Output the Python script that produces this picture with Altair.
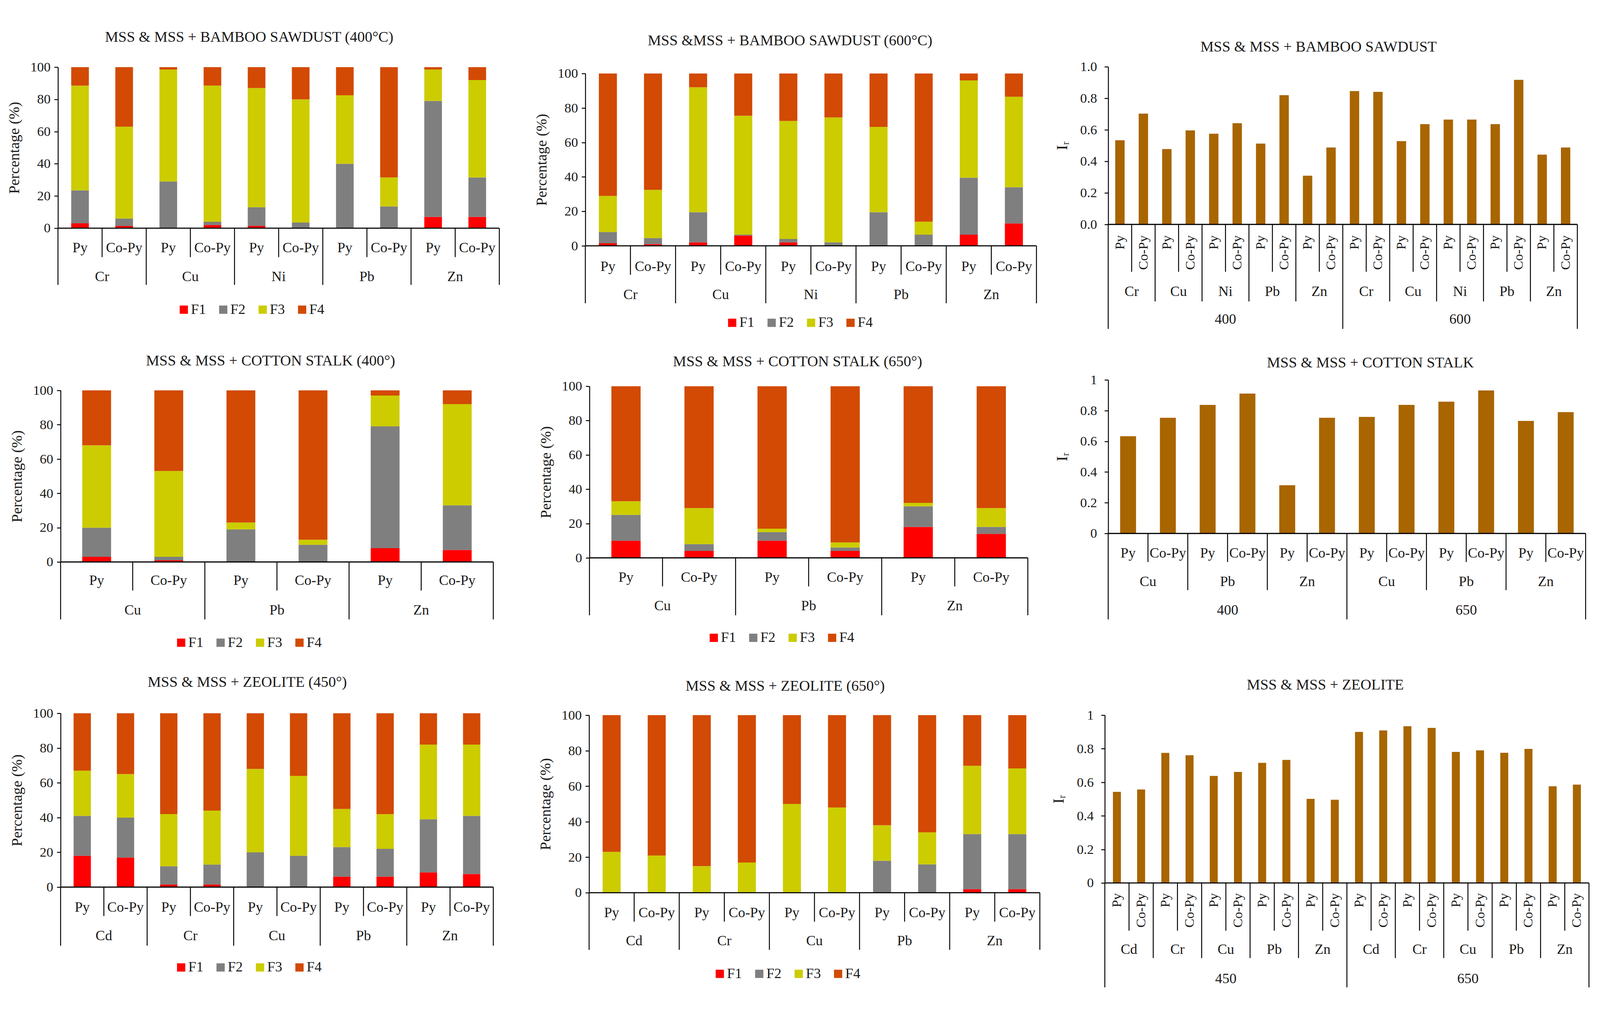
import altair as alt
import pandas as pd

# ---------------------------------------------------------
# DATA  (bars are listed metal by metal: Py, Co-Py, Py, Co-Py ...)
# ---------------------------------------------------------
FRACTIONS = ["F1", "F2", "F3", "F4"]
METHODS = ["Py", "Co-Py"]

# bamboo sawdust, 400 C
BS400_METALS = ["Cr", "Cu", "Ni", "Pb", "Zn"]
BS400_F1 = [3, 1.5, 0, 2, 1.5, 0, 0, 0, 7, 7]
BS400_F2 = [20.5, 4.5, 29, 2, 11.5, 3.5, 40, 13.5, 72, 24.5]
BS400_F3 = [65, 57, 69.5, 84.5, 74, 76.5, 42.5, 18, 19.5, 60.5]
BS400_F4 = [11.5, 37, 1.5, 11.5, 13, 20, 17.5, 68.5, 1.5, 8]

# bamboo sawdust, 600 C
BS600_METALS = ["Cr", "Cu", "Ni", "Pb", "Zn"]
BS600_F1 = [1.5, 1, 2, 6, 2, 0, 0, 0, 6.5, 13]
BS600_F2 = [6.5, 3.5, 17.5, 0.5, 2, 2, 19.5, 6.5, 33, 21]
BS600_F3 = [21, 28, 72.5, 69, 68.5, 72.5, 49.5, 7.5, 56.5, 52.5]
BS600_F4 = [71, 67.5, 8, 24.5, 27.5, 25.5, 31, 86, 4, 13.5]

# cotton stalk, 400
CS400_METALS = ["Cu", "Pb", "Zn"]
CS400_F1 = [3, 1, 0, 0, 8, 7]
CS400_F2 = [17, 2, 19, 10, 71, 26]
CS400_F3 = [48, 50, 4, 3, 18, 59]
CS400_F4 = [32, 47, 77, 87, 3, 8]

# cotton stalk, 650
CS650_METALS = ["Cu", "Pb", "Zn"]
CS650_F1 = [10, 4, 10, 4, 18, 14]
CS650_F2 = [15, 4, 5, 2, 12, 4]
CS650_F3 = [8, 21, 2, 3, 2, 11]
CS650_F4 = [67, 71, 83, 91, 68, 71]

# zeolite, 450
ZE450_METALS = ["Cd", "Cr", "Cu", "Pb", "Zn"]
ZE450_F1 = [18, 17, 1.5, 1.5, 0, 0, 6, 6, 8.5, 7.5]
ZE450_F2 = [23, 23, 10.5, 11.5, 20, 18, 17, 16, 30.5, 33.5]
ZE450_F3 = [26, 25, 30, 31, 48, 46, 22, 20, 43, 41]
ZE450_F4 = [33, 35, 58, 56, 32, 36, 55, 58, 18, 18]

# zeolite, 650
ZE650_METALS = ["Cd", "Cr", "Cu", "Pb", "Zn"]
ZE650_F1 = [0, 0, 0, 0, 0, 0, 0, 0, 2, 2]
ZE650_F2 = [0, 0, 0, 0, 0, 0, 18, 16, 31, 31]
ZE650_F3 = [23, 21, 15, 17, 50, 48, 20, 18, 38.5, 37]
ZE650_F4 = [77, 79, 85, 83, 50, 52, 62, 66, 28.5, 30]

# Ir index, low / high temperature
BS_IR_TEMPS = ["400", "600"]
BS_IR_METALS = ["Cr", "Cu", "Ni", "Pb", "Zn"]
BS_IR_LOW = [0.534, 0.703, 0.478, 0.596, 0.575, 0.642, 0.513, 0.820, 0.309, 0.488]
BS_IR_HIGH = [0.846, 0.841, 0.528, 0.636, 0.665, 0.665, 0.636, 0.917, 0.443, 0.488]

CS_IR_TEMPS = ["400", "650"]
CS_IR_METALS = ["Cu", "Pb", "Zn"]
CS_IR_LOW = [0.633, 0.753, 0.837, 0.911, 0.314, 0.753]
CS_IR_HIGH = [0.759, 0.837, 0.858, 0.931, 0.733, 0.790]

ZE_IR_TEMPS = ["450", "650"]
ZE_IR_METALS = ["Cd", "Cr", "Cu", "Pb", "Zn"]
ZE_IR_LOW = [0.543, 0.557, 0.775, 0.761, 0.638, 0.662, 0.716, 0.733, 0.501, 0.496]
ZE_IR_HIGH = [0.900, 0.909, 0.934, 0.924, 0.781, 0.790, 0.776, 0.799, 0.576, 0.586]

PCT_TICKS = [0, 20, 40, 60, 80, 100]
IR_TICKS = [0, 0.2, 0.4, 0.6, 0.8, 1.0]

# ---------------------------------------------------------
# STYLE / LAYOUT  (page pixels; the chart sits 8px in)
# ---------------------------------------------------------
FONT = "Liberation Serif"
TEXT = "#1a1a1a"
FRACTION_COLORS = ["#ff0000", "#7f7f7f", "#cccc00", "#d24a04"]
IR_COLOR = "#a86500"
MARGIN = 8
CHART_W, CHART_H = 4243, 2576
LEGEND_STEP = 105
PX_KEYS = ("x0", "x1", "yt", "yb", "title_x", "title_y", "sub_y", "sub_bot",
           "grp_y", "grp_bot", "leg_x", "leg_y", "temp_y", "bot")


def _geo(**g):
    return {k: (v - MARGIN if k in PX_KEYS else v) for k, v in g.items()}


G1 = _geo(x0=154, x1=1329, yt=127, yb=556, title_x=663, title_y=48, sub_y=609, sub_bot=633,
          grp_y=686, grp_bot=707, leg_x=489, leg_y=773, bar=0.4)
G2 = _geo(x0=1558, x1=2759, yt=144, yb=603, title_x=2103, title_y=57, sub_y=659, sub_bot=680,
          grp_y=734, grp_bot=756, leg_x=1949, leg_y=808, bar=0.4)
G3 = _geo(x0=2950, x1=4199, yt=126, yb=546, title_x=3510, title_y=73, sub_y=575, sub_bot=672,
          grp_y=726, grp_bot=751, temp_y=799, bot=824, rotate=True, bar=0.4, fmt=".1f")
G4 = _geo(x0=161, x1=1313, yt=988, yb=1445, title_x=720, title_y=910, sub_y=1495, sub_bot=1521,
          grp_y=1574, grp_bot=1598, leg_x=482, leg_y=1660, bar=0.4)
G5 = _geo(x0=1569, x1=2736, yt=977, yb=1434, title_x=2123, title_y=912, sub_y=1487, sub_bot=1510,
          grp_y=1563, grp_bot=1587, leg_x=1900, leg_y=1647, bar=0.4)
G6 = _geo(x0=2950, x1=4221, yt=960, yb=1369, title_x=3648, title_y=915, sub_y=1422, sub_bot=1445,
          grp_y=1498, grp_bot=1520, temp_y=1574, bot=1598, rotate=False, bar=0.4, fmt="~g")
G7 = _geo(x0=161, x1=1313, yt=1848, yb=2311, title_x=658, title_y=1765, sub_y=2366, sub_bot=2388,
          grp_y=2441, grp_bot=2467, leg_x=482, leg_y=2525, bar=0.4)
G8 = _geo(x0=1568, x1=2768, yt=1853, yb=2326, title_x=2090, title_y=1776, sub_y=2380, sub_bot=2403,
          grp_y=2455, grp_bot=2478, leg_x=1916, leg_y=2542, bar=0.4)
G9 = _geo(x0=2941, x1=4230, yt=1853, yb=2300, title_x=3528, title_y=1773, sub_y=2327, sub_bot=2427,
          grp_y=2478, grp_bot=2500, temp_y=2556, bot=2578, rotate=True, bar=0.33, fmt="~g")


# ---------------------------------------------------------
# HELPERS
# ---------------------------------------------------------
def _key_frame(temps, metals):
    rows = []
    for t in temps:
        for m in metals:
            for p in METHODS:
                key = "|".join(s for s in (t, m, p) if s)
                rows.append({"key": key, "temp": t, "metal": m, "method": p})
    return pd.DataFrame(rows)


def _x(keys, g, band=None):
    kw = {} if band is None else {"bandPosition": band}
    scale = alt.Scale(domain=keys, range=[g["x0"], g["x1"]], paddingInner=0, paddingOuter=0)
    return alt.X("key:N", scale=scale, axis=None, **kw)


def _rule(df, keys, g, band, y0, y1):
    return (
        alt.Chart(df)
        .mark_rule(color="black", strokeWidth=2.5)
        .encode(x=_x(keys, g, band), y=alt.value(y0), y2=alt.value(y1))
    )


def _label(df, keys, g, band, y, field, **mark_kw):
    style = dict(font=FONT, fontSize=38, color=TEXT, baseline="middle", align="center")
    style.update(mark_kw)
    return (
        alt.Chart(df)
        .mark_text(**style)
        .encode(x=_x(keys, g, band), y=alt.value(y), text=f"{field}:N")
    )


def _baseline(g):
    return (
        alt.Chart(pd.DataFrame({"z": [0]}))
        .mark_rule(color="black", strokeWidth=3)
        .encode(x=alt.value(g["x0"]), x2=alt.value(g["x1"]), y=alt.datum(0))
    )


def _title(text, g):
    return (
        alt.Chart(pd.DataFrame({"t": [text]}))
        .mark_text(font=FONT, fontSize=40, color=TEXT, baseline="middle", align="center")
        .encode(x=alt.value(g["title_x"]), y=alt.value(g["title_y"]), text="t:N")
    )


def _category_layers(kf, g):
    keys = list(kf["key"])
    first = kf.groupby("temp", sort=False).head(1)
    starts = kf[(kf["method"] == "Py") & ~kf["key"].isin(first["key"])]
    outer = g.get("bot", g["grp_bot"])
    layers = [
        _rule(kf[kf["method"] == "Co-Py"], keys, g, 0, g["yb"], g["sub_bot"]),
        _rule(starts, keys, g, 0, g["yb"], g["grp_bot"]),
        _rule(first, keys, g, 0, g["yb"], outer),
        _rule(kf.tail(1), keys, g, 1, g["yb"], outer),
        _label(kf[kf["method"] == "Co-Py"], keys, g, 0, g["grp_y"], "metal"),
    ]
    if g.get("rotate"):
        layers.append(_label(kf, keys, g, None, g["sub_y"], "method", angle=270,
                             align="right", fontSize=36))
    else:
        layers.append(_label(kf, keys, g, None, g["sub_y"], "method"))
    if "temp_y" in g:
        mids = kf.groupby("temp", sort=False).apply(lambda d: d.iloc[[len(d) // 2]])
        layers.append(_label(mids.reset_index(drop=True), keys, g, 0, g["temp_y"], "temp"))
    return layers


def _fraction_color():
    return alt.Color("frac:N", scale=alt.Scale(domain=FRACTIONS, range=FRACTION_COLORS),
                     legend=None)


def _legend_layer(g):
    lx = alt.X("frac:N", axis=None,
               scale=alt.Scale(type="point", domain=FRACTIONS, padding=0,
                               range=[g["leg_x"], g["leg_x"] + 3 * LEGEND_STEP]))
    base = alt.Chart(pd.DataFrame({"frac": FRACTIONS}))
    swatch = base.mark_square(size=484, opacity=1, strokeWidth=0).encode(
        x=lx, y=alt.value(g["leg_y"]), color=_fraction_color())
    label = base.mark_text(font=FONT, fontSize=38, color=TEXT, align="left",
                           baseline="middle", dx=19).encode(
        x=lx, y=alt.value(g["leg_y"]), text="frac:N")
    return alt.layer(swatch, label)


# ---------------------------------------------------------
# STACKED FRACTION PANEL
# ---------------------------------------------------------
def _stacked_panel(title, metals, fractions, g):
    kf = _key_frame([""], metals)
    rows = []
    for n, rec in kf.iterrows():
        for k, frac in enumerate(FRACTIONS):
            v = fractions[k][n]
            if v > 0:
                rows.append({"key": rec["key"], "frac": frac, "ord": k, "val": v})
    df = pd.DataFrame(rows)
    keys = list(kf["key"])

    bars = (
        alt.Chart(df)
        .mark_bar(width=alt.RelativeBandSize(g["bar"]))
        .encode(
            x=_x(keys, g),
            y=alt.Y(
                "val:Q",
                stack="zero",
                scale=alt.Scale(domain=[0, 100], range=[g["yb"], g["yt"]], nice=False),
                axis=alt.Axis(values=PCT_TICKS, title="Percentage (%)", titlePadding=22,
                              orient="left", offset=-g["x0"]),
            ),
            color=_fraction_color(),
            order=alt.Order("ord:Q", sort="ascending"),
        )
    )
    main = alt.layer(bars, _baseline(g), *_category_layers(kf, g), _title(title, g))
    return alt.layer(main, _legend_layer(g)).resolve_scale(x="independent")


# ---------------------------------------------------------
# Ir PANEL
# ---------------------------------------------------------
def _ir_panel(title, temps, metals, low, high, g):
    kf = _key_frame(temps, metals)
    df = kf.assign(val=list(low) + list(high))
    keys = list(kf["key"])

    bars = (
        alt.Chart(df)
        .mark_bar(width=alt.RelativeBandSize(g["bar"]), color=IR_COLOR)
        .encode(
            x=_x(keys, g),
            y=alt.Y(
                "val:Q",
                scale=alt.Scale(domain=[0, 1], range=[g["yb"], g["yt"]], nice=False),
                axis=alt.Axis(values=IR_TICKS, format=g["fmt"], title="Iᵣ",
                              labelPadding=20, titlePadding=26, titleFontSize=42,
                              orient="left", offset=-g["x0"]),
            ),
        )
    )
    return alt.layer(bars, _baseline(g), *_category_layers(kf, g), _title(title, g))


# ---------------------------------------------------------
# BUILD
# ---------------------------------------------------------
panels = [
    _stacked_panel("MSS & MSS + BAMBOO SAWDUST (400°C)", BS400_METALS,
                   [BS400_F1, BS400_F2, BS400_F3, BS400_F4], G1),
    _stacked_panel("MSS &MSS + BAMBOO SAWDUST (600°C)", BS600_METALS,
                   [BS600_F1, BS600_F2, BS600_F3, BS600_F4], G2),
    _ir_panel("MSS & MSS + BAMBOO SAWDUST", BS_IR_TEMPS, BS_IR_METALS,
              BS_IR_LOW, BS_IR_HIGH, G3),
    _stacked_panel("MSS & MSS + COTTON STALK (400°)", CS400_METALS,
                   [CS400_F1, CS400_F2, CS400_F3, CS400_F4], G4),
    _stacked_panel("MSS & MSS + COTTON STALK (650°)", CS650_METALS,
                   [CS650_F1, CS650_F2, CS650_F3, CS650_F4], G5),
    _ir_panel("MSS & MSS + COTTON STALK", CS_IR_TEMPS, CS_IR_METALS,
              CS_IR_LOW, CS_IR_HIGH, G6),
    _stacked_panel("MSS & MSS + ZEOLITE (450°)", ZE450_METALS,
                   [ZE450_F1, ZE450_F2, ZE450_F3, ZE450_F4], G7),
    _stacked_panel("MSS & MSS + ZEOLITE (650°)", ZE650_METALS,
                   [ZE650_F1, ZE650_F2, ZE650_F3, ZE650_F4], G8),
    _ir_panel("MSS & MSS + ZEOLITE", ZE_IR_TEMPS, ZE_IR_METALS,
              ZE_IR_LOW, ZE_IR_HIGH, G9),
]

# fixed canvas: every position above is absolute, so no padding-based resizing
chart = (
    alt.layer(*panels)
    .resolve_scale(x="independent", y="independent")
    .properties(width=CHART_W, height=CHART_H, padding=0, background="white",
                autosize=alt.AutoSizeParams(type="none"))
    .configure_view(stroke=None)
    .configure_axis(
        grid=False,
        labelFont=FONT, labelFontSize=36, labelColor=TEXT, labelPadding=10,
        titleFont=FONT, titleFontSize=40, titleFontWeight="normal", titleColor=TEXT,
        domainColor="black", domainWidth=2.5,
        tickColor="black", tickWidth=2.5, tickSize=10,
    )
)

chart.save("out.html", embed_options={"renderer": "svg", "actions": False})
